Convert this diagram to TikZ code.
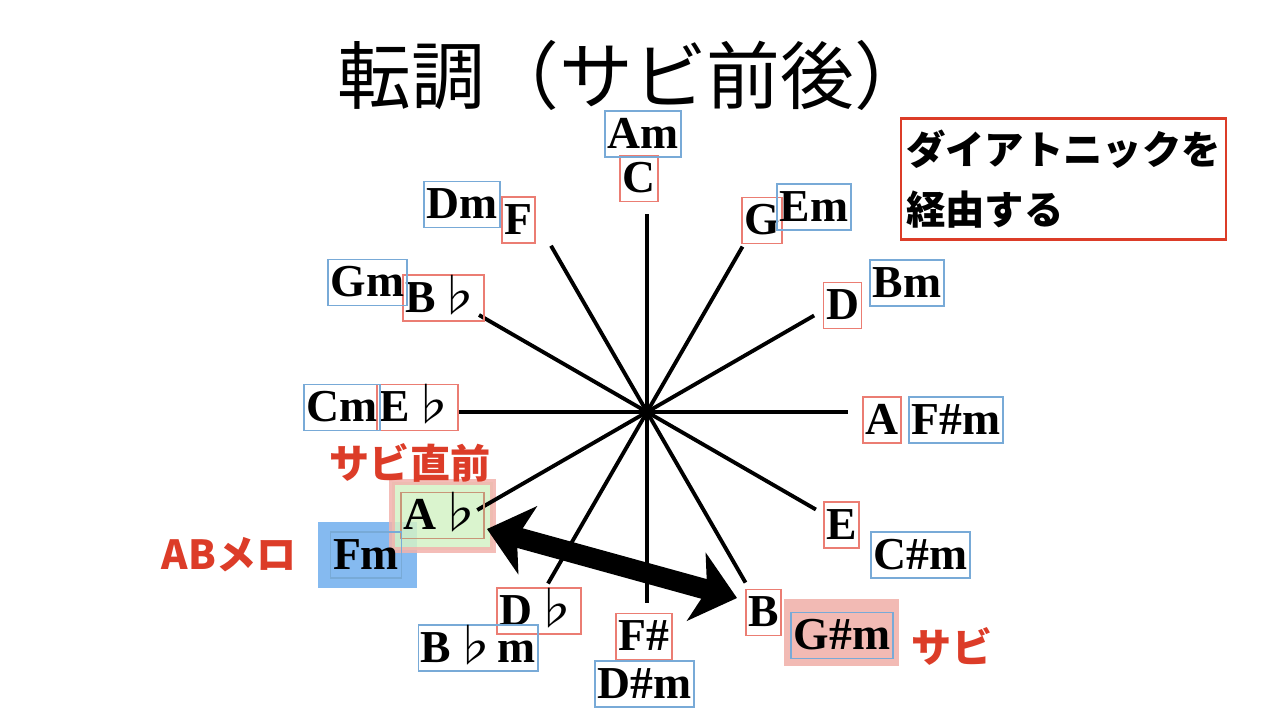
\documentclass[tikz,border=0pt]{standalone}
\usepackage{fontspec}
\setmainfont{Liberation Serif}
\newfontfamily\jp{Noto Sans CJK JP}
\usepackage{xcolor}
\usepackage{tikz}
\usetikzlibrary{arrows.meta,positioning,calc}

\definecolor{minblue}{RGB}{120,170,215}
\definecolor{majred}{RGB}{235,125,115}
\definecolor{labred}{RGB}{220,60,40}
\definecolor{fmfill}{RGB}{120,178,238}
\definecolor{abfill}{RGB}{212,242,198}
\definecolor{abedge}{RGB}{242,178,172}
\definecolor{abinner}{RGB}{200,150,120}
\definecolor{gsfill}{RGB}{242,186,180}

\newcommand{\fl}{{\jp\mdseries ♭}}

\tikzset{
  chordbox/.style={inner xsep=0.025cm, inner ysep=0pt, minimum height=0.46cm,
    text height=0.31cm, text depth=0.03cm, font=\fontsize{13}{15}\selectfont\bfseries},
  majbox/.style={chordbox, draw=majred, line width=0.5pt},
  minbox/.style={chordbox, draw=minblue, line width=0.5pt},
  spoke/.style={line width=1.1pt},
  redlabel/.style={text=labred, font=\jp\bfseries\fontsize{11.4}{13}\selectfont},
}

\begin{document}
\begin{tikzpicture}
\useasboundingbox (0, 0) rectangle (12.8, 7.18);

% title
\node[font=\jp\fontsize{21}{26}\selectfont] (title) at (6.33, 6.43) {転調（サビ前後）};

% highlights
\fill[fmfill, fill opacity=0.9] (3.18, 1.30) rectangle (4.17, 1.96);
\fill[abfill, fill opacity=0.85] (3.92, 1.68) rectangle (4.93, 2.36);
\draw[abedge, line width=1.6pt, opacity=0.85] (3.92, 1.68) rectangle (4.93, 2.36);
\fill[gsfill] (7.84, 0.52) rectangle (8.99, 1.19);

% spokes
\coordinate (o) at (6.47, 3.06);
\foreach \n/\a/\r in {C/90/1.98, G/60/1.91, D/30/1.93, A/0/2.01, E/-30/1.95, B/-60/1.97,
                      Fs/-90/1.91, Db/-120/1.98, Ab/-150/1.96, Eb/180/1.88, Bb/150/1.94, F/120/1.92}
  {
  \coordinate (e\n) at ($(o)+(\a:\r)$);
  \draw[spoke] (o) -- (e\n);
  }

% major keys
\node[majbox] (nC) at (6.39, 5.395) {C};
\node[majbox] (nG) at (7.62, 4.975) {G};
\node[majbox] (nD) at (8.425, 4.125) {D};
\node[majbox] (nA) at (8.82, 2.98) {A};
\node[majbox] (nE) at (8.415, 1.93) {E};
\node[majbox] (nB) at (7.635, 1.055) {B};
\node[majbox] (nFs) at (6.44, 0.815) {F\#};
\node[majbox] (nDb) at (5.39, 1.07) {D\fl};
\node[chordbox, draw=abinner, line width=0.5pt] (nAb) at (4.425, 2.025) {A\fl};
\node[majbox] (nEb) at (4.175, 3.105) {E\fl};
\node[majbox] (nBb) at (4.435, 4.20) {B\fl};
\node[majbox] (nF) at (5.185, 4.98) {F};

% minor keys
\node[minbox] (nAm) at (6.43, 5.84) {Am};
\node[minbox] (nEm) at (8.14, 5.11) {Em};
\node[minbox] (nBm) at (9.07, 4.35) {Bm};
\node[minbox] (nFsm) at (9.56, 2.98) {F\#m};
\node[minbox] (nCsm) at (9.205, 1.63) {C\#m};
\node[minbox] (nGsm) at (8.42, 0.825) {G\#m};
\node[minbox] (nDsm) at (6.445, 0.34) {D\#m};
\node[minbox] (nBbm) at (4.78, 0.70) {B\fl m};
\node[minbox] (nFm) at (3.66, 1.63) {Fm};
\node[minbox] (nCm) at (3.42, 3.105) {Cm};
\node[minbox] (nGm) at (3.675, 4.355) {Gm};
\node[minbox] (nDm) at (4.62, 5.135) {Dm};

% arrow
\coordinate (arL) at (4.87, 1.89);
\coordinate (arR) at (7.37, 1.20);
\draw[line width=5.8pt, {Stealth[length=0.42cm, width=0.7cm, inset=0.11cm]}-{Stealth[length=0.42cm, width=0.7cm, inset=0.11cm]}] (arL) -- (arR);

% labels
\node[redlabel] (lPre) at (4.10, 2.55) {サビ直前};
\node[redlabel] (lAB) at (2.29, 1.63) {ABメロ};
\node[redlabel] (lSabi) at (9.52, 0.72) {サビ};

\node[draw=labred, line width=0.8pt, minimum width=3.23cm, minimum height=1.08cm,
  align=left, inner xsep=0.05cm, font=\jp\bfseries\fontsize{11.2}{17}\selectfont] (note) at (10.635, 5.39)
  {ダイアトニックを\\経由する\hspace{4.1em}};
\end{tikzpicture}
\end{document}
